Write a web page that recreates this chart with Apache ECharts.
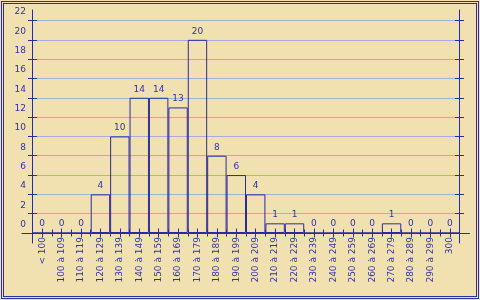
<!DOCTYPE html>
<html>
<head>
<meta charset="utf-8">
<script src="https://cdn.jsdelivr.net/npm/echarts@6/dist/echarts.min.js"></script>
<style>
html,body{margin:0;padding:0;background:#f2e1b0;}
#wrap{position:relative;width:480px;height:300px;overflow:hidden;}
#chart{position:absolute;left:0;top:0;width:480px;height:300px;}
#frame{position:absolute;left:1px;top:1px;width:472px;height:292px;border:3px double #2e2e9c;pointer-events:none;}
</style>
</head>
<body>
<div id="wrap"><div id="chart"></div><div id="frame"></div></div>
<script>
const categories = ['< 100','100 à 109','110 à 119','120 à 129','130 à 139','140 à 149','150 à 159','160 à 169','170 à 179','180 à 189','190 à 199','200 à 209','210 à 219','220 à 229','230 à 239','240 à 249','250 à 259','260 à 269','270 à 279','280 à 289','290 à 299','300'];
const counts = [0,0,0,4,10,14,14,13,20,8,6,4,1,1,0,0,0,0,1,0,0,0];
const yMin = 0, yMax = 22, yStep = 2;

const AX = '#2b2ba0';
const TX = '#3131aa';
const GRID = '#a9acd8';
const FONT = 'DejaVu Sans';

const chart = echarts.init(document.getElementById('chart'), null, {renderer:'canvas'});
chart.setOption({
  animation:false,
  backgroundColor:'transparent',
  grid:[
    {left:32.5, right:20.5, top:20.5, bottom:67},
    {left:32.5, right:20.5, top:10, bottom:57},
    {left:22, right:10.5, top:20.5, bottom:67}
  ],
  xAxis:[
    {type:'category', gridIndex:0, data:categories,
     axisLine:{show:false}, axisTick:{show:false},
     axisLabel:{rotate:90, margin:4, color:TX, fontFamily:FONT, fontSize:9, interval:0}},
    {type:'category', gridIndex:0, data:categories, position:'bottom', offset:-4.5,
     axisLine:{show:false}, axisLabel:{show:false},
     axisTick:{show:true, alignWithLabel:true, length:9, interval:0, lineStyle:{color:AX, width:1}}},
    {type:'category', gridIndex:0, data:categories, position:'bottom', offset:-3.5,
     axisLine:{show:false}, axisLabel:{show:false},
     axisTick:{show:true, alignWithLabel:false, length:7, interval:0, lineStyle:{color:AX, width:1}}},
    {type:'value', gridIndex:1, show:false},
    {type:'value', gridIndex:2, min:0, max:1, position:'bottom',
     axisLine:{show:true, lineStyle:{color:AX, width:1}}, axisTick:{show:false}, axisLabel:{show:false}, splitLine:{show:false}}
  ],
  yAxis:[
    {type:'value', gridIndex:0, min:yMin, max:yMax, interval:yStep, position:'left', offset:-4.5,
     axisLine:{show:false},
     axisTick:{show:true, length:9, lineStyle:{color:AX, width:1}},
     axisLabel:{margin:11, color:TX, fontFamily:FONT, fontSize:9, verticalAlign:'bottom', lineHeight:11, padding:[0,0,3,0]},
     splitLine:{show:true, lineStyle:{color:GRID, width:1}}},
    {type:'value', gridIndex:0, min:yMin, max:yMax, interval:yStep, position:'right', offset:-4.5,
     axisLine:{show:false},
     axisTick:{show:true, length:9, lineStyle:{color:AX, width:1}},
     axisLabel:{show:false}, splitLine:{show:false}},
    {type:'value', gridIndex:1, min:0, max:1, position:'left',
     axisLine:{show:true, lineStyle:{color:AX, width:1}}, axisTick:{show:false}, axisLabel:{show:false}, splitLine:{show:false}},
    {type:'value', gridIndex:1, min:0, max:1, position:'right',
     axisLine:{show:true, lineStyle:{color:AX, width:1}}, axisTick:{show:false}, axisLabel:{show:false}, splitLine:{show:false}},
    {type:'value', gridIndex:2, show:false}
  ],
  series:[{
    type:'bar', xAxisIndex:0, yAxisIndex:0, data:counts,
    barCategoryGap:'0%',
    itemStyle:{color:'rgba(0,0,0,0)', borderColor:AX, borderWidth:1},
    label:{show:true, position:'top', distance:4, color:TX, fontFamily:FONT, fontSize:9}
  }]
});
</script>
</body>
</html>
